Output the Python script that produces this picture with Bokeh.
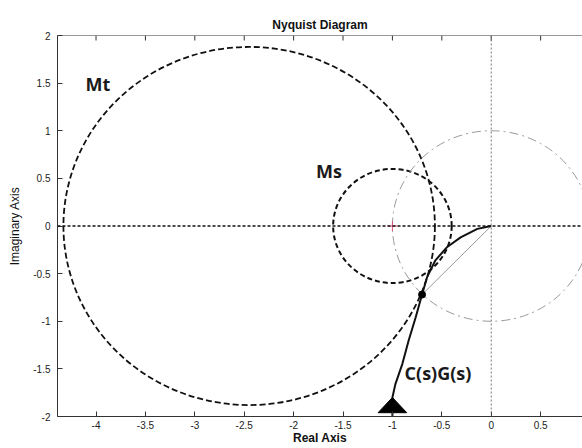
from bokeh.plotting import figure
from bokeh.models import Range1d, FixedTicker, Span
from bokeh.core.properties import value
from bokeh.embed import file_html
from bokeh.resources import INLINE

# ---------------- data ----------------
x_ticks = [-4, -3.5, -3, -2.5, -2, -1.5, -1, -0.5, 0, 0.5]
x_tick_labels = ["-4", "-3.5", "-3", "-2.5", "-2", "-1.5", "-1", "-0.5", "0", "0.5"]
y_ticks = [-2, -1.5, -1, -0.5, 0, 0.5, 1, 1.5, 2]
y_tick_labels = ["-2", "-1.5", "-1", "-0.5", "0", "0.5", "1", "1.5", "2"]

# M-circles: Mt (Mt=1.3), Ms (Ms=1/0.6) and the unit circle
circle_names = ["Mt", "Ms", "unit"]
circle_center_re = [-2.45, -1.0, 0.0]
circle_center_im = [0.0, 0.0, 0.0]
circle_radius = [1.88, 0.6, 1.0]

# Nyquist curve C(s)G(s), from low frequency (bottom) to the origin
curve_re = [-1.0, -1.0, -0.97, -0.90, -0.835, -0.765, -0.70, -0.65, -0.565, -0.445, -0.31, -0.14, 0.0]
curve_im = [-2.05, -1.80, -1.66, -1.45, -1.20, -0.96, -0.72, -0.54, -0.36, -0.22, -0.12, -0.03, 0.0]

# unit-circle crossing (phase margin point)
crossing_re = [-0.70]
crossing_im = [-0.72]

# critical point
critical_re = [-1.0]
critical_im = [0.0]

# text labels
label_text = ["Mt", "Ms", "C(s)G(s)"]
label_re = [-3.98, -1.643, -0.539]
label_im = [1.49, 0.574, -1.54]

# arrow head (tip taken from the curve point with index 1)
arrow_tip_index = 1
arrow_half_width = 0.145
arrow_length = 0.16

X_MIN, X_MAX = -4.39, 0.924
Y_MIN, Y_MAX = -2, 2

# ---------------- figure ----------------
p = figure(width=582, height=448,
           x_range=Range1d(X_MIN, X_MAX), y_range=Range1d(Y_MIN, Y_MAX),
           output_backend="svg", toolbar_location=None,
           min_border_left=57, min_border_right=0,
           min_border_top=35, min_border_bottom=32)
p.outline_line_color = None
p.background_fill_color = "white"
p.border_fill_color = "white"
p.grid.visible = False

p.title.text = "Nyquist Diagram"
p.title.align = "center"
p.title.text_font = "Liberation Sans"
p.title.text_font_size = "12px"
p.title.text_font_style = "bold"
p.title.text_color = "#111111"
p.title.standoff = 7

axis_color = "#333333"
for ax in [p.xaxis[0], p.yaxis[0]]:
    ax.axis_line_color = axis_color
    ax.major_tick_line_color = axis_color
    ax.major_tick_in = 5
    ax.major_tick_out = 0
    ax.minor_tick_line_color = None
    ax.major_label_text_font = "Liberation Sans"
    ax.major_label_text_font_size = "10px"
    ax.major_label_text_color = "#222222"
    ax.axis_label_text_font = "Liberation Sans"
    ax.axis_label_text_font_size = "12px"
    ax.axis_label_text_color = "#111111"

p.xaxis[0].ticker = FixedTicker(ticks=x_ticks)
p.xaxis[0].major_label_overrides = {t: l for t, l in zip(x_ticks, x_tick_labels)}
p.xaxis[0].major_label_standoff = 4
p.xaxis[0].axis_label = "Real Axis"
p.xaxis[0].axis_label_text_font_style = "bold"
p.xaxis[0].axis_label_standoff = -1

p.yaxis[0].ticker = FixedTicker(ticks=y_ticks)
p.yaxis[0].major_label_overrides = {t: l for t, l in zip(y_ticks, y_tick_labels)}
p.yaxis[0].major_label_standoff = 7
p.yaxis[0].axis_label = "Imaginary Axis"
p.yaxis[0].axis_label_text_font_style = "normal"
p.yaxis[0].axis_label_standoff = 8

# top frame line and inward ticks
p.add_layout(Span(location=Y_MAX, dimension="width", line_color=axis_color,
                  line_width=1))
tick_len = 5 / 95.0
p.segment(x0=x_ticks, y0=[Y_MAX] * len(x_ticks), x1=x_ticks,
          y1=[Y_MAX - tick_len] * len(x_ticks), line_color=axis_color,
          line_width=1)

# reference axes lines
p.add_layout(Span(location=0, dimension="height", line_color="#777777",
                  line_dash="2 2", line_width=1))
p.add_layout(Span(location=0, dimension="width", line_color="#111111",
                  line_dash="3 2", line_width=1.5))

# circles
styles = {
    "Mt": dict(line_color="#111111", line_dash="6 3", line_width=1.8),
    "Ms": dict(line_color="#111111", line_dash="5 3", line_width=2.0),
    "unit": dict(line_color="#999999", line_dash="9 4 2 4", line_width=1.0),
}
for i, name in enumerate(circle_names):
    p.ellipse(x=[circle_center_re[i]], y=[circle_center_im[i]],
              width=[2 * circle_radius[i]], height=[2 * circle_radius[i]],
              fill_color=None, **styles[name])

# thin line from origin to crossing point
p.line(x=[curve_re[-1], crossing_re[0]], y=[curve_im[-1], crossing_im[0]],
       line_color="#9a9a9a", line_width=1)

# Nyquist curve
p.line(x=curve_re, y=curve_im, line_color="#111111", line_width=2)

# arrow head
tx, ty = curve_re[arrow_tip_index], curve_im[arrow_tip_index]
p.patch(x=[tx, tx - arrow_half_width, tx + arrow_half_width],
        y=[ty, ty - arrow_length, ty - arrow_length],
        fill_color="#000000", line_color="#000000")

# crossing point
p.scatter(x=crossing_re, y=crossing_im, marker="circle", size=7,
          fill_color="#000000", line_color="#000000")

# critical point
p.scatter(x=critical_re, y=critical_im, marker="cross", size=10,
          line_color="#e0507a", line_width=1)

# labels
p.text(x=label_re, y=label_im, text=label_text,
       text_font=value("Open Sans"), text_font_style="bold",
       text_font_size="18px", text_align="center", text_baseline="middle",
       text_color="#1a1a1a")

open("out.html", "w").write(file_html(p, INLINE))
